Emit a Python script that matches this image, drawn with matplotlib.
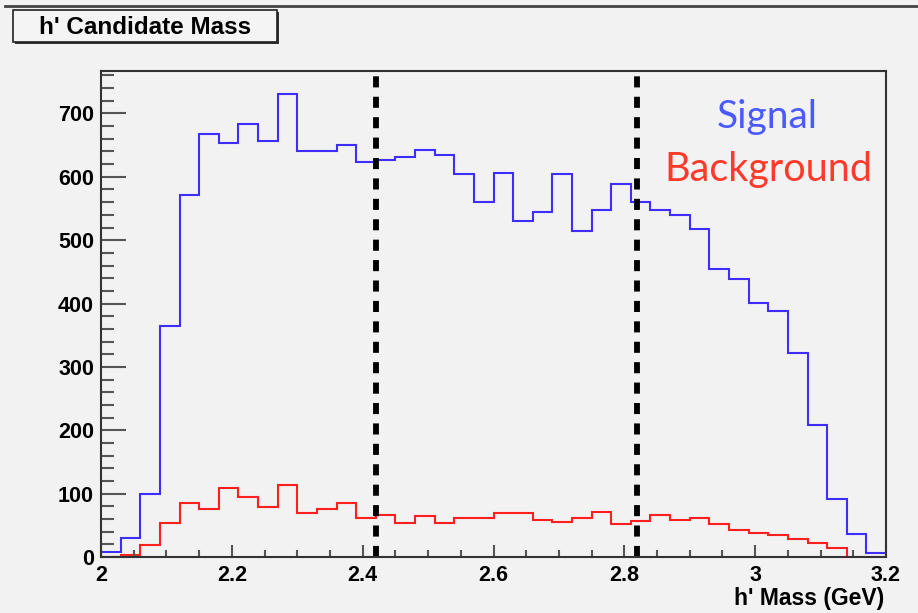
import matplotlib
matplotlib.use("Agg")
import matplotlib.pyplot as plt
import matplotlib.patches as mpatches
import numpy as np
from matplotlib.ticker import MultipleLocator

# ---- data ----
bin_low = 2.0
bin_width = 0.03
signal = [8, 30, 100, 365, 572, 667, 653, 684, 656, 731,
          640, 640, 651, 623, 627, 631, 643, 634, 604, 560,
          606, 531, 545, 604, 514, 547, 589, 560, 547, 539,
          518, 455, 438, 401, 388, 322, 209, 92, 36, 7]
background = [0, 3, 19, 53, 85, 75, 109, 95, 79, 113,
              69, 75, 86, 62, 66, 54, 65, 53, 62, 62,
              69, 69, 59, 55, 62, 71, 52, 57, 66, 58,
              61, 52, 43, 38, 35, 29, 22, 14, 0, 0]
cut_lines = [2.42, 2.82]
title = "h' Candidate Mass"
xlabel = "h' Mass (GeV)"
legend_labels = ["Signal", "Background"]

edges = bin_low + bin_width * np.arange(len(signal) + 1)

W, H = 918, 613
fig = plt.figure(figsize=(W / 100, H / 100), dpi=100)
bg = "#f2f2f2"
fig.patch.set_facecolor(bg)

def fx(px):
    return px / W

def fy(py):
    return 1 - py / H

ax = fig.add_axes([fx(101), fy(557), fx(886) - fx(101), fy(71) - fy(557)])
ax.set_facecolor(bg)

sig_col = "#3f2cff"
bkg_col = "#ff1f1f"
ax.stairs(signal, edges, baseline=0, color=sig_col, lw=1.5)
ax.stairs(background, edges, baseline=0, color=bkg_col, lw=1.5)

for xc in cut_lines:
    ax.axvline(xc, color="black", lw=4.2, dashes=(1.9, 1.6))

ax.set_xlim(2.0, 3.2)
ax.set_ylim(0, 767)
ax.xaxis.set_major_locator(MultipleLocator(0.2))
ax.xaxis.set_minor_locator(MultipleLocator(0.05))
ax.yaxis.set_major_locator(MultipleLocator(100))
ax.yaxis.set_minor_locator(MultipleLocator(20))

def xfmt(v, pos):
    s = f"{v:.1f}"
    if s.endswith(".0"):
        s = s[:-2]
    return s

ax.xaxis.set_major_formatter(matplotlib.ticker.FuncFormatter(xfmt))

for sp in ax.spines.values():
    sp.set_color("#333333")
    sp.set_linewidth(1.5)

ax.tick_params(axis="both", which="both", direction="in", color="#555555",
               top=False, right=False)
ax.tick_params(axis="y", which="major", length=18, width=1.5, pad=5)
ax.tick_params(axis="y", which="minor", length=9, width=1.5)
ax.tick_params(axis="x", which="major", length=9, width=1.5, pad=6)
ax.tick_params(axis="x", which="minor", length=5, width=1.5)
for lab in ax.get_xticklabels() + ax.get_yticklabels():
    lab.set_fontfamily("Liberation Sans")
    lab.set_fontweight("bold")
    lab.set_fontsize(15.5)

# x axis label, right-aligned
fig.text(fx(884), fy(598), xlabel, ha="right", va="center",
         fontfamily="Liberation Sans", fontweight="bold", fontsize=16.5)

# Signal / Background annotations
ax.text(fx(767), fy(117), legend_labels[0], transform=fig.transFigure,
        ha="center", va="center", color="#4a5aff", fontfamily="Lato", fontsize=28)
ax.text(fx(768), fy(170), legend_labels[1], transform=fig.transFigure,
        ha="center", va="center", color="#ff3a2a", fontfamily="Lato", fontsize=28.5)

# top line of canvas
fig.add_artist(plt.Line2D([fx(5), 1.0], [fy(6), fy(6)], color="#444444", lw=2,
                          transform=fig.transFigure))

# title box with shadow
shadow = mpatches.Rectangle((fx(15), fy(44)), fx(264), fy(10) - fy(42),
                            transform=fig.transFigure, facecolor="#333333",
                            edgecolor="none")
box = mpatches.Rectangle((fx(13), fy(42)), fx(264), fy(10) - fy(42),
                         transform=fig.transFigure, facecolor="#f4f4f4",
                         edgecolor="#222222", lw=1.2)
fig.add_artist(shadow)
fig.add_artist(box)
fig.text(fx(145), fy(27), title, ha="center", va="center",
         fontfamily="Liberation Sans", fontweight="bold", fontsize=17.5)

fig.savefig("out.png", dpi=100, facecolor=bg)
